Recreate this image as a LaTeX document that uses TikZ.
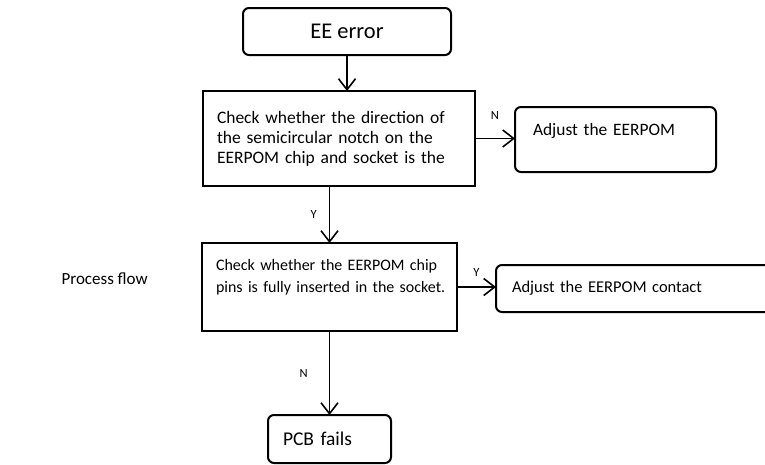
\documentclass[tikz,border=0pt]{standalone}
\usepackage{fontspec}
\setmainfont{Carlito}
\usepackage{tikz}
\usetikzlibrary{arrows.meta, positioning}

\begin{document}
\begin{tikzpicture}[>={Straight Barb[length=11pt,width=17pt]},
  box style/.style={
    draw=black,
    line width=2pt,
    rectangle,
    outer sep=0pt,
    inner ysep=4pt,
    font=\fontsize{16}{20}\selectfont,
  },
  round style/.style={
    box style,
    rounded corners=6pt,
  },
  text style/.style={
    inner sep=0pt,
    font=\fontsize{12.5}{14}\selectfont,
  },
  flow/.style={->, line width=1.6pt}
]

\clip (0,0) rectangle (765pt,-464pt);

\node[round style, minimum width=208pt, minimum height=47pt,
  font=\fontsize{22.5}{26}\selectfont] (EE) at (347pt,-31.5pt) {EE error};

\node[box style, below=36pt of EE, xshift=-8pt, minimum height=95pt,
  text width=244pt, inner xsep=14pt, align=left,
  font=\fontsize{17.5}{20}\selectfont] (C1)
  {Check whether the direction of\\ the semicircular notch on the\\ EERPOM chip and socket is the};

\node[round style, right=40pt of C1, yshift=-1pt, minimum height=65pt,
  text width=165pt, inner xsep=18pt, align=left,
  font=\fontsize{17.4}{21}\selectfont] (A1)
  {Adjust the EERPOM\\ \mbox{}};

\node[box style, below=57pt of C1, xshift=-9.5pt, minimum height=88pt,
  text width=239pt, inner xsep=8pt, align=left,
  font=\fontsize{16}{22}\selectfont] (C2)
  {\hspace*{6pt}Check whether the EERPOM chip\\ \hspace*{6pt}pins is fully inserted in the socket.\\ \mbox{}};

\node[round style, right=39pt of C2, yshift=-1.5pt, minimum height=47pt,
  text width=248pt, inner xsep=16pt, align=left,
  font=\fontsize{16.5}{20}\selectfont] (A2) {Adjust the EERPOM contact};

\node[round style, below=84pt of C2, minimum height=48pt,
  text width=93pt, inner xsep=15pt, align=left,
  font=\fontsize{19.5}{24}\selectfont] (PCB) {PCB fails};

\node[inner sep=0pt, left=54pt of C2, yshift=8pt,
  font=\fontsize{17}{20}\selectfont] (PF) {Process flow};

\draw[flow] (EE.south) -- (EE.south |- C1.north);
\draw[flow] (C1.east) -- node[text style, above=18pt]{N} (C1.east -| A1.west);
\draw[flow] (C2.north |- C1.south) -- node[text style, left=12pt]{Y} (C2.north);
\draw[flow] (C2.east) -- node[text style, above=10pt]{Y} (C2.east -| A2.west);
\draw[flow] (C2.south) -- node[text style, left=21pt]{N} (PCB.north);

\end{tikzpicture}
\end{document}
